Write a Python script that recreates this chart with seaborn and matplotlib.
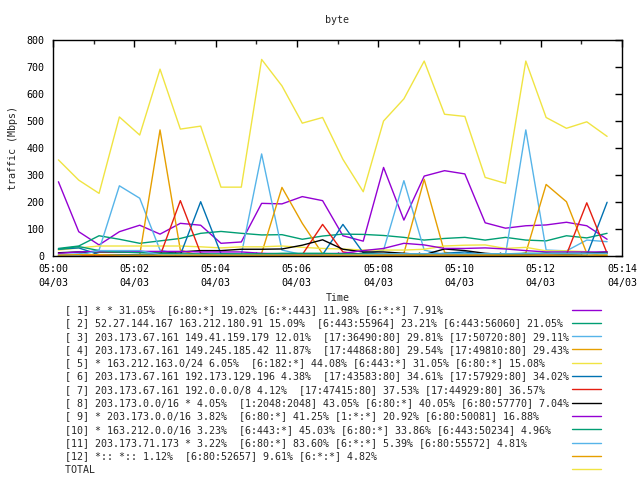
import matplotlib
matplotlib.use("Agg")
import matplotlib.dates as mdates
import matplotlib.pyplot as plt
import numpy as np
import pandas as pd
import seaborn as sns

# sample times: every 30 s starting 05:00:08
times = pd.date_range("2013-04-03 05:00:08", periods=28, freq="30s")

labels = [
    "[ 1] * * 31.05%  [6:80:*] 19.02% [6:*:443] 11.98% [6:*:*] 7.91%",
    "[ 2] 52.27.144.167 163.212.180.91 15.09%  [6:443:55964] 23.21% [6:443:56060] 21.05%",
    "[ 3] 203.173.67.161 149.41.159.179 12.01%  [17:36490:80] 29.81% [17:50720:80] 29.11%",
    "[ 4] 203.173.67.161 149.245.185.42 11.87%  [17:44868:80] 29.54% [17:49810:80] 29.43%",
    "[ 5] * 163.212.163.0/24 6.05%  [6:182:*] 44.08% [6:443:*] 31.05% [6:80:*] 15.08%",
    "[ 6] 203.173.67.161 192.173.129.196 4.38%  [17:43583:80] 34.61% [17:57929:80] 34.02%",
    "[ 7] 203.173.67.161 192.0.0.0/8 4.12%  [17:47415:80] 37.53% [17:44929:80] 36.57%",
    "[ 8] 203.173.0.0/16 * 4.05%  [1:2048:2048] 43.05% [6:80:*] 40.05% [6:80:57770] 7.04%",
    "[ 9] * 203.173.0.0/16 3.82%  [6:80:*] 41.25% [1:*:*] 20.92% [6:80:50081] 16.88%",
    "[10] * 163.212.0.0/16 3.23%  [6:443:*] 45.03% [6:80:*] 33.86% [6:443:50234] 4.96%",
    "[11] 203.173.71.173 * 3.22%  [6:80:*] 83.60% [6:*:*] 5.39% [6:80:55572] 4.81%",
    "[12] *:: *:: 1.12%  [6:80:52657] 9.61% [6:*:*] 4.82%",
    "TOTAL",
]

s1 = [275, 90, 41, 90, 114, 81, 121, 114, 47, 52, 195, 193, 220, 205,
      75, 55, 328, 133, 296, 316, 304, 123, 103, 112, 115, 125, 112, 62]
s2 = [28, 37, 75, 62, 47, 56, 65, 84, 91, 84, 78, 79, 62, 74,
      81, 80, 76, 69, 59, 65, 69, 59, 69, 59, 56, 75, 67, 84]
s3 = [5, 8, 22, 260, 214, 22, 5, 5, 5, 5, 378, 22, 5, 5,
      5, 5, 22, 279, 22, 5, 5, 5, 5, 467, 22, 19, 59, 53]
s4 = [0, 0, 0, 0, 3, 467, 22, 0, 0, 0, 10, 254, 121, 8,
      0, 0, 0, 10, 284, 14, 0, 0, 0, 11, 265, 201, 10, 0]
s5 = [22, 30, 37, 37, 37, 37, 37, 34, 30, 34, 34, 37, 32, 28,
      26, 22, 22, 22, 25, 37, 40, 41, 28, 32, 19, 19, 16, 4]
s6 = [25, 30, 5, 5, 5, 5, 4, 201, 8, 5, 5, 5, 5, 5,
      117, 12, 5, 5, 5, 10, 15, 5, 5, 5, 5, 5, 2, 199]
s7 = [0, 0, 0, 0, 0, 0, 205, 10, 0, 0, 0, 0, 5, 117,
      15, 5, 5, 5, 5, 5, 5, 5, 5, 5, 5, 5, 197, 10]
s8 = [12, 15, 15, 15, 15, 15, 15, 20, 20, 25, 25, 26, 40, 60,
      25, 15, 15, 10, 5, 26, 20, 10, 5, 5, 10, 5, 10, 15]
s9 = [10, 15, 17, 17, 17, 17, 17, 15, 15, 15, 10, 8, 8, 8,
      10, 20, 28, 47, 41, 28, 28, 30, 26, 20, 15, 15, 15, 15]
s10 = [25, 35, 20, 15, 12, 10, 8, 8, 8, 8, 8, 10, 10, 10,
       8, 8, 8, 8, 8, 8, 8, 8, 8, 10, 10, 10, 10, 10]
s11 = [3, 3, 20, 20, 20, 5, 5, 3, 3, 3, 3, 3, 3, 3,
       3, 5, 8, 8, 8, 8, 8, 8, 8, 8, 8, 8, 8, 8]
s12 = [3, 5, 5, 3, 3, 3, 3, 3, 3, 3, 3, 3, 3, 3,
       3, 3, 3, 3, 3, 3, 3, 3, 3, 3, 3, 3, 3, 3]
total = [356, 281, 232, 515, 448, 692, 470, 481, 255, 255, 728, 630, 492, 513,
         358, 238, 500, 582, 722, 525, 517, 291, 269, 722, 513, 473, 497, 443]

series = [s1, s2, s3, s4, s5, s6, s7, s8, s9, s10, s11, s12, total]

base_colors = ["#9400d3", "#009e73", "#56b4e9", "#e69f00",
               "#f0e442", "#0072b2", "#e51e10", "#000000"]
colors = [base_colors[i % 8] for i in range(len(series))]

sns.set_style("white")
plt.rcParams["font.family"] = ["DejaVu Sans Mono"]
plt.rcParams["font.size"] = 7.2

fig = plt.figure(figsize=(6.4, 4.8), dpi=100)
ax = fig.add_axes([53 / 640, 1 - 256 / 480, 569 / 640, 216 / 480])

for vals, lab, col in zip(series, labels, colors):
    df = pd.DataFrame({"time": times, "traffic": vals})
    sns.lineplot(data=df, x="time", y="traffic", color=col, linewidth=1.0,
                 ax=ax, label=lab, legend=False, sort=False)

ax.set_xlim(pd.Timestamp("2013-04-03 05:00"), pd.Timestamp("2013-04-03 05:14"))
ax.set_ylim(0, 800)
ax.set_yticks(np.arange(0, 801, 100))
ax.xaxis.set_major_locator(mdates.MinuteLocator(byminute=range(0, 60, 2)))
ax.xaxis.set_minor_locator(mdates.MinuteLocator())
ax.xaxis.set_major_formatter(mdates.DateFormatter("%H:%M\n%m/%d"))

ax.tick_params(which="major", direction="in", length=5, width=1, pad=6,
               top=True, right=True, labelsize=7.2, colors="black")
ax.tick_params(which="minor", direction="in", length=3, width=1,
               top=True, bottom=True)
for sp in ax.spines.values():
    sp.set_color("black")
    sp.set_linewidth(1)

ax.set_title("byte", fontsize=7.2, pad=12)
ax.set_xlabel("Time", fontsize=7.2, labelpad=4)
ax.set_ylabel("traffic (Mbps)", fontsize=7.2, labelpad=6)

width = 84
handles = ax.get_lines()[:len(series)]
padded = [l.ljust(width) for l in labels]
fig.legend(handles, padded, loc="upper left",
           bbox_to_anchor=(65 / 640, 1 - 305 / 480),
           bbox_transform=fig.transFigure, frameon=False, markerfirst=False,
           borderpad=0, borderaxespad=0, handlelength=2.9, handletextpad=0.3,
           labelspacing=0.33, fontsize=7.2)

fig.canvas.draw()
for t in ax.get_xticklabels():
    t.set_linespacing(1.4)

fig.savefig("out.png", dpi=100)
